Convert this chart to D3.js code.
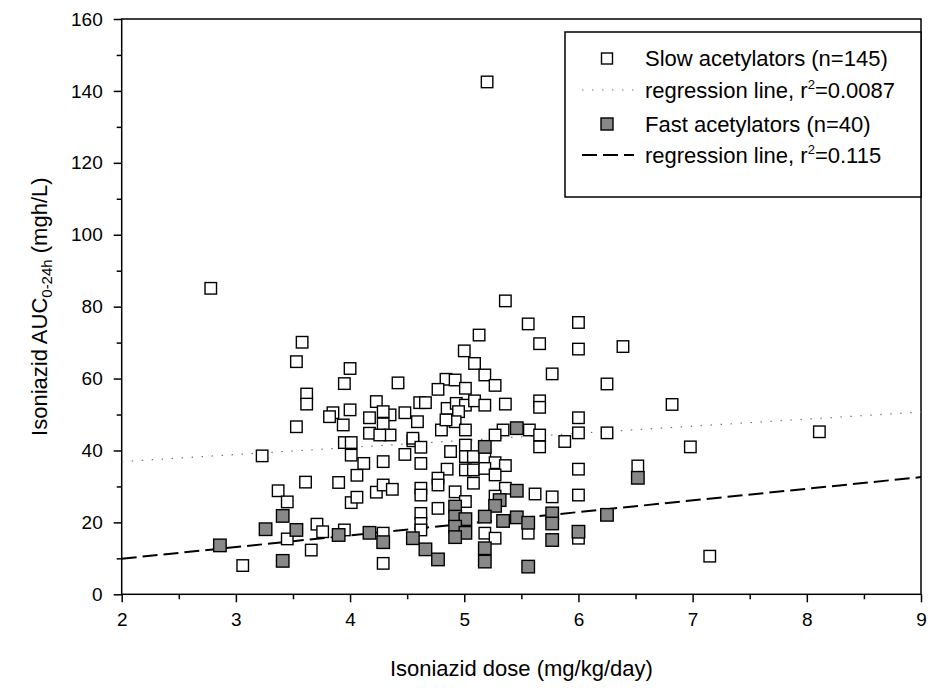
<!DOCTYPE html>
<html>
<head>
<meta charset="utf-8">
<script src="https://cdn.jsdelivr.net/npm/d3@7"></script>
<style>
  body { margin: 0; background: #fff; }
  svg { display: block; font-family: "Liberation Sans", Arial, sans-serif; }
</style>
</head>
<body>
<svg id="chart" width="930" height="695"></svg>
<script>
// slow acetylators (open squares)
const slowDose = [2.78,3.58,3.53,4.00,3.95,4.42,3.62,3.62,3.53,3.85,4.00,3.94,4.23,4.35,4.48,4.17,4.29,4.61,4.59,3.82,
  4.17,4.35,3.95,4.01,3.23,4.01,4.12,4.29,4.48,4.55,4.06,3.90,3.61,3.37,3.45,4.01,4.06,4.23,4.29,4.37,
  3.71,3.76,3.45,3.95,3.66,3.06,4.29,4.29,5.36,5.56,6.00,5.13,5.66,6.00,5.00,5.09,5.18,5.27,5.77,4.84,
  4.92,4.77,5.01,4.66,4.85,4.93,5.01,5.09,5.18,4.95,5.36,5.66,5.66,6.00,6.00,4.80,4.92,5.01,4.84,4.55,
  5.34,5.57,5.27,5.66,5.88,5.66,4.62,4.62,4.88,5.01,5.01,5.08,5.18,5.27,5.36,4.85,5.01,5.08,5.18,5.27,
  5.08,4.77,4.77,4.62,4.62,6.00,6.00,5.62,5.77,4.92,5.01,4.77,4.62,4.62,4.62,5.36,5.27,5.18,5.27,5.56,
  6.00,6.39,6.25,6.82,6.25,8.11,6.98,6.52,7.15,5.20,4.29,4.26];
const slowAUC = [85.1,70.1,64.7,62.8,58.6,58.8,55.7,52.9,46.6,50.5,51.3,47.1,53.6,49.9,50.5,49.1,47.4,53.3,48.0,49.4,
  44.8,44.3,42.2,42.2,38.5,38.7,36.4,36.9,38.9,42.7,33.1,31.1,31.2,28.8,25.7,25.5,27.0,28.4,30.4,29.2,
  19.5,17.4,15.4,17.9,12.3,8.0,8.6,17.0,81.6,75.2,75.6,72.1,69.7,68.2,67.7,64.2,61.0,58.1,61.3,59.8,
  59.6,57.0,57.3,53.3,51.7,53.1,52.6,53.8,52.6,50.8,52.9,53.8,52.0,49.1,44.9,45.7,48.0,45.7,48.5,43.4,
  45.7,45.7,44.3,44.3,42.5,41.0,40.9,36.4,39.7,41.5,38.3,38.3,37.8,36.6,35.8,34.8,34.6,34.6,35.0,33.2,
  30.9,32.3,30.4,29.5,27.6,34.8,27.6,27.9,27.1,28.5,25.8,23.9,22.5,19.7,17.9,29.5,27.3,17.0,15.6,17.0,
  15.6,68.9,58.5,52.8,44.9,45.2,41.0,35.7,10.6,142.5,50.8,44.3];

// fast acetylators (grey squares)
const fastDose = [2.86,3.26,3.41,3.53,3.41,3.90,4.17,4.29,4.55,5.46,5.18,5.46,5.31,5.27,4.92,4.92,5.01,4.92,5.01,4.92,
  5.18,5.34,5.46,5.56,5.77,5.77,5.77,6.00,4.66,4.77,5.18,5.18,5.56,6.52,6.25];
const fastAUC = [13.6,18.1,21.8,17.9,9.3,16.5,17.1,14.5,15.6,46.2,41.0,28.8,26.2,24.6,24.4,21.6,20.9,18.8,17.1,15.9,
  21.6,20.4,21.4,19.9,22.5,19.7,15.1,17.4,12.5,9.7,12.8,9.1,7.7,32.4,22.1];

// regression lines (AUC at dose 2 and dose 9)
const regDose = [2, 9];
const slowFit = [36.9, 50.7];
const fastFit = [9.9, 32.6];

const xTicks = [2, 3, 4, 5, 6, 7, 8, 9];
const yTicks = [0, 20, 40, 60, 80, 100, 120, 140, 160];

const svg = d3.select("#chart");
const plotL = 121.7, plotR = 921, plotT = 19, plotB = 594.3;

const x = d3.scaleLinear().domain([2, 9]).range([plotL, plotR]);
const y = d3.scaleLinear().domain([0, 160]).range([plotB, plotT]);

// axes
const xAxis = svg.append("g").attr("transform", `translate(0,${plotB})`)
  .call(d3.axisBottom(x).tickValues(xTicks).tickSize(8).tickPadding(10).tickFormat(d3.format("d")));
const xMinor = svg.append("g").attr("transform", `translate(0,${plotB})`)
  .call(d3.axisBottom(x).tickValues(d3.range(2.5, 9, 1)).tickSize(5).tickFormat(""));
const yAxis = svg.append("g").attr("transform", `translate(${plotL},0)`)
  .call(d3.axisLeft(y).tickValues(yTicks).tickSize(8).tickPadding(11));
const yMinor = svg.append("g").attr("transform", `translate(${plotL},0)`)
  .call(d3.axisLeft(y).tickValues(d3.range(10, 160, 20)).tickSize(5).tickFormat(""));

[xAxis, xMinor, yAxis, yMinor].forEach(g => {
  g.select(".domain").remove();
  g.selectAll("line").attr("stroke", "#000").attr("stroke-width", 1.5);
  g.selectAll("text").attr("font-size", 19).attr("fill", "#000")
    .attr("font-family", "'Liberation Sans', Arial, sans-serif");
});

// frame
svg.append("rect")
  .attr("x", plotL).attr("y", plotT)
  .attr("width", plotR - plotL).attr("height", plotB - plotT)
  .attr("fill", "none").attr("stroke", "#000").attr("stroke-width", 1.5);

// regression lines
const line = d3.line().x(d => x(d[0])).y(d => y(d[1]));
svg.append("path")
  .attr("d", line(regDose.map((d, i) => [d, slowFit[i]])))
  .attr("fill", "none").attr("stroke", "#777").attr("stroke-width", 1.2)
  .attr("stroke-dasharray", "1.5,8.5");
svg.append("path")
  .attr("d", line(regDose.map((d, i) => [d, fastFit[i]])))
  .attr("fill", "none").attr("stroke", "#000").attr("stroke-width", 2)
  .attr("stroke-dasharray", "15,6");

// points
const openSize = 11.5, fastSize = 12.5;
svg.append("g").selectAll("rect")
  .data(slowDose.map((d, i) => [d, slowAUC[i]]))
  .join("rect")
  .attr("x", d => x(d[0]) - openSize / 2)
  .attr("y", d => y(d[1]) - openSize / 2)
  .attr("width", openSize).attr("height", openSize)
  .attr("fill", "#fff").attr("stroke", "#000").attr("stroke-width", 1.4);

svg.append("g").selectAll("rect")
  .data(fastDose.map((d, i) => [d, fastAUC[i]]))
  .join("rect")
  .attr("x", d => x(d[0]) - fastSize / 2)
  .attr("y", d => y(d[1]) - fastSize / 2)
  .attr("width", fastSize).attr("height", fastSize)
  .attr("fill", "#888").attr("stroke", "#000").attr("stroke-width", 1.4);

// axis titles
svg.append("text")
  .attr("x", (plotL + plotR) / 2).attr("y", 676)
  .attr("text-anchor", "middle").attr("font-size", 22)
  .text("Isoniazid dose (mg/kg/day)");

const yTitle = svg.append("text")
  .attr("transform", `translate(47,${(plotT + plotB) / 2}) rotate(-90)`)
  .attr("text-anchor", "middle").attr("font-size", 22);
yTitle.append("tspan").text("Isoniazid AUC");
yTitle.append("tspan").attr("font-size", 15).attr("dy", 5).text("0-24h");
yTitle.append("tspan").attr("dy", -5).text(" (mgh/L)");

// legend
const lg = svg.append("g");
lg.append("rect")
  .attr("x", 565).attr("y", 32).attr("width", plotR - 565).attr("height", 165)
  .attr("fill", "#fff").attr("stroke", "#000").attr("stroke-width", 1.5);

const rows = [66, 98, 132, 163];
const textX = 645, symX = 607;
lg.append("rect").attr("x", symX - 5.5).attr("y", rows[0] - 13).attr("width", 11).attr("height", 11)
  .attr("fill", "#fff").attr("stroke", "#000").attr("stroke-width", 1.4);
lg.append("line").attr("x1", 582).attr("x2", 634).attr("y1", rows[1] - 8).attr("y2", rows[1] - 8)
  .attr("stroke", "#777").attr("stroke-width", 1.2).attr("stroke-dasharray", "1.5,8.5");
lg.append("rect").attr("x", symX - 6).attr("y", rows[2] - 14).attr("width", 12).attr("height", 12)
  .attr("fill", "#888").attr("stroke", "#000").attr("stroke-width", 1.4);
lg.append("line").attr("x1", 582).attr("x2", 634).attr("y1", rows[3] - 8).attr("y2", rows[3] - 8)
  .attr("stroke", "#000").attr("stroke-width", 2).attr("stroke-dasharray", "15,6");

const legendText = [
  ["Slow acetylators (n=145)"],
  ["regression line, r", "2", "=0.0087"],
  ["Fast acetylators (n=40)"],
  ["regression line, r", "2", "=0.115"]
];
legendText.forEach((parts, i) => {
  const t = lg.append("text").attr("x", textX).attr("y", rows[i]).attr("font-size", 22);
  t.append("tspan").text(parts[0]);
  if (parts.length > 1) {
    t.append("tspan").attr("font-size", 13).attr("dy", -9).text(parts[1]);
    t.append("tspan").attr("dy", 9).text(parts[2]);
  }
});
</script>
</body>
</html>
